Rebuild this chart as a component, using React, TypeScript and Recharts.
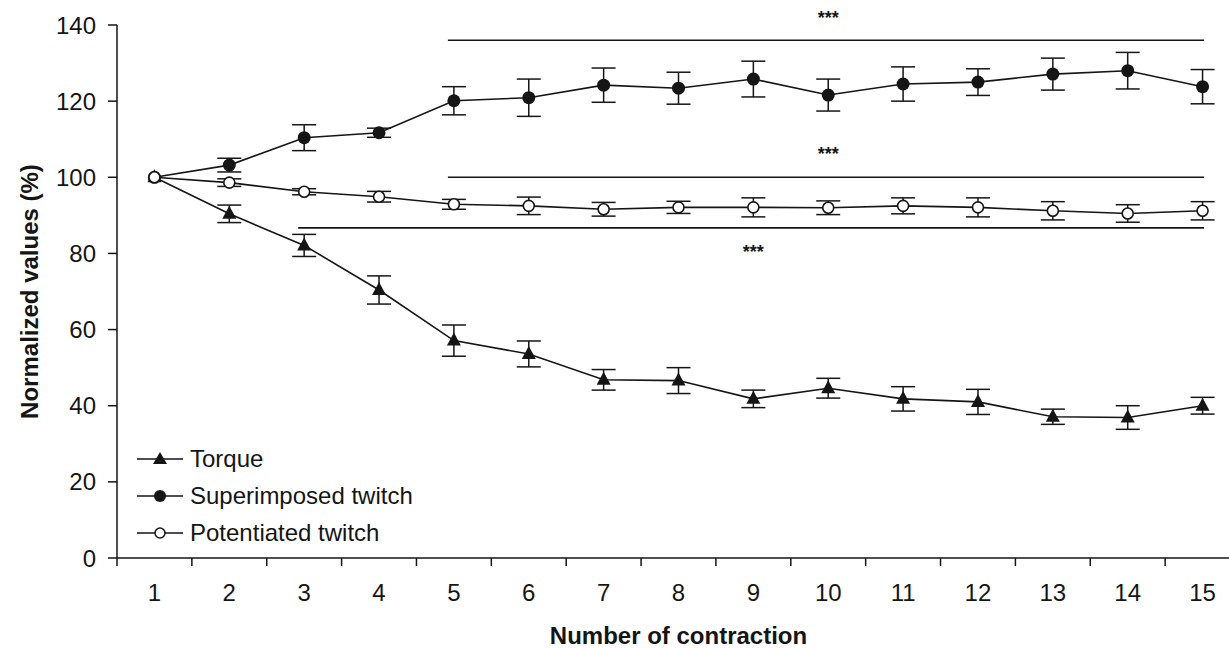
import React from "react";
import {
  LineChart, Line, XAxis, YAxis, ErrorBar, ReferenceLine, ReferenceDot, Legend,
} from "recharts";

const contractions = [1, 2, 3, 4, 5, 6, 7, 8, 9, 10, 11, 12, 13, 14, 15];
const torque = [100, 90.4, 82.1, 70.4, 57.1, 53.6, 46.8, 46.6, 41.8, 44.6, 41.8, 41.0, 37.1, 36.9, 40.0];
const torqueSd = [0, 2.3, 2.9, 3.7, 4.1, 3.4, 2.7, 3.4, 2.3, 2.6, 3.2, 3.3, 2.0, 3.1, 2.2];
const superimposed = [100, 103.2, 110.4, 111.7, 120.1, 120.9, 124.2, 123.4, 125.8, 121.6, 124.5, 125.0, 127.1, 128.0, 123.8];
const superimposedSd = [0, 1.8, 3.4, 1.2, 3.7, 4.9, 4.5, 4.2, 4.7, 4.2, 4.5, 3.5, 4.2, 4.8, 4.5];
const potentiated = [100, 98.6, 96.2, 94.9, 92.9, 92.5, 91.6, 92.1, 92.1, 92.0, 92.5, 92.1, 91.2, 90.5, 91.2];
const potentiatedSd = [0, 1.0, 0.8, 1.4, 1.3, 2.3, 1.8, 1.6, 2.5, 1.8, 2.1, 2.5, 2.4, 2.3, 2.4];

const yTicks = [0, 20, 40, 60, 80, 100, 120, 140];

// significance bars (*** p < 0.001)
const sigY = [136, 100, 86.7];
const sigFrom = [4.92, 4.92, 2.92];
const sigTo = [15.02, 15.02, 15.02];
const starX = [10, 10, 9];
const starY = [141.8, 106.1, 80.4];

const FONT = '"Liberation Sans", Arial, Helvetica, sans-serif';
const INK = "#151515";
const FS = 24;

const data = contractions.map((c, i) => ({
  c,
  torque: torque[i],
  torqueSd: torqueSd[i],
  superimposed: superimposed[i],
  superimposedSd: superimposedSd[i],
  potentiated: potentiated[i],
  potentiatedSd: potentiatedSd[i],
}));

// labels on whole numbers, tick marks between categories
const xTicks = contractions.flatMap((c) => [c - 0.5, c]).concat(contractions.length + 0.5);

function XTick(props: any) {
  const { x, y, payload } = props;
  const v = payload.value;
  if (Number.isInteger(v)) {
    return (
      <text x={x} y={y} dy={43} textAnchor="middle" fontSize={FS} fill={INK} fontFamily={FONT}>
        {v}
      </text>
    );
  }
  return <line x1={x} x2={x} y1={y} y2={y + 8} stroke={INK} strokeWidth={1.5} />;
}

function Triangle(props: any) {
  const { cx, cy } = props;
  if (cx == null || cy == null) return null;
  return (
    <polygon
      points={`${cx - 7},${cy + 5} ${cx + 7},${cy + 5} ${cx},${cy - 8}`}
      fill={INK}
    />
  );
}

function Filled(props: any) {
  const { cx, cy } = props;
  if (cx == null || cy == null) return null;
  return <circle cx={cx} cy={cy} r={6.5} fill={INK} />;
}

function Open(props: any) {
  const { cx, cy } = props;
  if (cx == null || cy == null) return null;
  return <circle cx={cx} cy={cy} r={5.5} fill="#fff" stroke={INK} strokeWidth={1.6} />;
}

function Stars(props: any) {
  const { cx, cy } = props;
  return (
    <text x={cx} y={cy} dy={6} textAnchor="middle" fontSize={18} fontWeight="bold" fill={INK} fontFamily={FONT}>
      ***
    </text>
  );
}

const legendItems = [
  { name: "Torque", icon: <polygon points="16,15 30,15 23,3" fill={INK} /> },
  { name: "Superimposed twitch", icon: <circle cx={23} cy={10} r={6} fill={INK} /> },
  { name: "Potentiated twitch", icon: <circle cx={23} cy={10} r={5} fill="#fff" stroke={INK} strokeWidth={1.5} /> },
];

function LegendBox() {
  return (
    <div style={{ fontFamily: FONT, fontSize: FS, color: INK }}>
      {legendItems.map((it) => (
        <div key={it.name} style={{ display: "flex", alignItems: "center", height: 37 }}>
          <svg width={46} height={20} style={{ marginRight: 7 }}>
            <line x1={0} x2={46} y1={10} y2={10} stroke={INK} strokeWidth={1.6} />
            {it.icon}
          </svg>
          <span>{it.name}</span>
        </div>
      ))}
    </div>
  );
}

function YTitle(props: any) {
  const vb = props.viewBox;
  const x = vb.x + 38;
  const y = vb.y + vb.height / 2;
  return (
    <text x={x} y={y} transform={`rotate(-90, ${x}, ${y})`} textAnchor="middle"
      fontSize={FS} fontWeight="bold" fill={INK} fontFamily={FONT}>
      Normalized values (%)
    </text>
  );
}

export default function App() {
  return (
    <div style={{ width: 1229, height: 648, overflow: "hidden", background: "#fff", position: "relative" }}>
      <style>{"body{margin:0}"}</style>
      <LineChart width={1245} height={648} data={data} margin={{ top: 25, right: 5, bottom: 0, left: 0 }}>
        <XAxis
          dataKey="c" type="number" domain={[0.5, 15.5]} ticks={xTicks} interval={0}
          tick={<XTick />} tickLine={false} tickSize={0} tickMargin={0} height={90}
          axisLine={{ stroke: INK, strokeWidth: 1.5 }}
          label={{ value: "Number of contraction", position: "insideBottom", offset: 4, fontSize: FS, fontWeight: "bold", fill: INK, fontFamily: FONT }}
        />
        <YAxis
          type="number" domain={[0, 140]} ticks={yTicks} interval={0} width={117}
          tick={{ fontSize: FS, fill: INK, fontFamily: FONT }} tickSize={9} tickMargin={12}
          tickLine={{ stroke: INK, strokeWidth: 1.5 }} axisLine={{ stroke: INK, strokeWidth: 1.5 }}
          label={{ content: <YTitle /> }}
        />
        {sigY.map((y, i) => (
          <ReferenceLine key={`s${i}`} segment={[{ x: sigFrom[i], y }, { x: sigTo[i], y }]} stroke={INK} strokeWidth={1.6} />
        ))}
        {starX.map((x, i) => (
          <ReferenceDot key={`t${i}`} x={x} y={starY[i]} r={0} ifOverflow="visible" shape={<Stars />} />
        ))}
        <Line dataKey="torque" stroke={INK} strokeWidth={1.6} dot={<Triangle />} activeDot={false} isAnimationActive={false}>
          <ErrorBar dataKey="torqueSd" direction="y" width={12} stroke={INK} strokeWidth={1.5} />
        </Line>
        <Line dataKey="superimposed" stroke={INK} strokeWidth={1.6} dot={<Filled />} activeDot={false} isAnimationActive={false}>
          <ErrorBar dataKey="superimposedSd" direction="y" width={12} stroke={INK} strokeWidth={1.5} />
        </Line>
        <Line dataKey="potentiated" stroke={INK} strokeWidth={1.6} dot={<Open />} activeDot={false} isAnimationActive={false}>
          <ErrorBar dataKey="potentiatedSd" direction="y" width={12} stroke={INK} strokeWidth={1.5} />
        </Line>
        <Legend layout="vertical" align="center" verticalAlign="middle" content={<LegendBox />}
          wrapperStyle={{ left: 137, top: 440, width: 340, height: 111 }} />
      </LineChart>
    </div>
  );
}
